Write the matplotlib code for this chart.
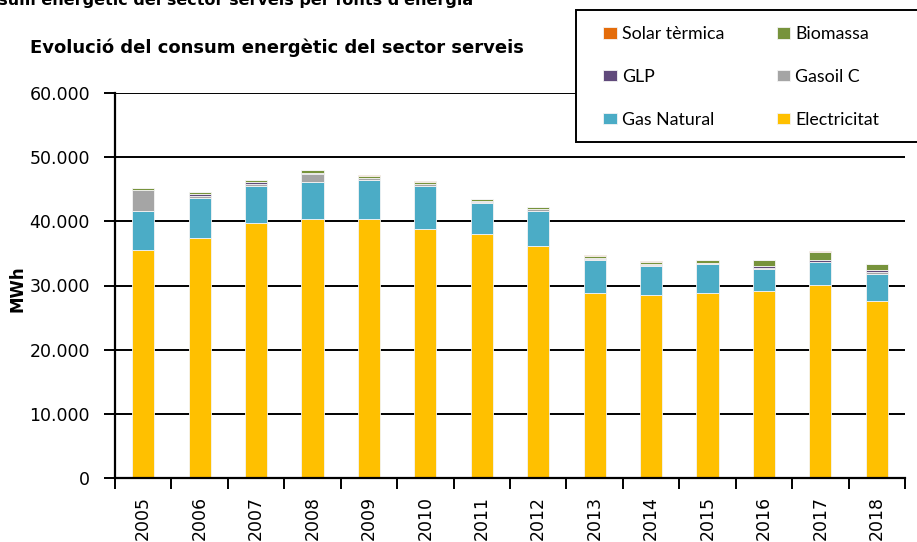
import matplotlib
matplotlib.use("Agg")
import matplotlib.pyplot as plt
from matplotlib.patches import Rectangle
import numpy as np

years = ["2005", "2006", "2007", "2008", "2009", "2010", "2011",
         "2012", "2013", "2014", "2015", "2016", "2017", "2018"]

# MWh per source
electricitat = [35560, 37340, 39720, 40340, 40340, 38830, 37960,
                36180, 28870, 28560, 28870, 29180, 30060, 27620]
gas_natural = [5980, 6320, 5810, 5810, 6080, 6700, 4870,
               5360, 5090, 4510, 4460, 3320, 3580, 4200]
gasoil_c = [3320, 300, 250, 1200, 300, 300, 250,
            350, 150, 100, 100, 250, 100, 300]
glp = [50, 300, 300, 250, 50, 50, 50,
       50, 250, 250, 100, 300, 300, 300]
biomassa = [300, 350, 300, 350, 350, 300, 350,
            300, 300, 300, 400, 930, 1250, 930]
solar_termica = [20, 30, 30, 40, 40, 40, 40,
                 40, 50, 50, 50, 60, 60, 60]

colors = {
    "Electricitat": "#FFC000",
    "Gas Natural": "#4BACC6",
    "Gasoil C": "#A5A5A5",
    "GLP": "#604A7B",
    "Biomassa": "#77933C",
    "Solar tèrmica": "#E46C0A",
}

series = [
    ("Electricitat", electricitat),
    ("Gas Natural", gas_natural),
    ("Gasoil C", gasoil_c),
    ("GLP", glp),
    ("Biomassa", biomassa),
    ("Solar tèrmica", solar_termica),
]

W, H = 917, 542
fig = plt.figure(figsize=(W / 100, H / 100), dpi=100)
ax = fig.add_axes([115 / W, 1 - 478 / H, 790 / W, 385 / H])

x = np.arange(len(years))
bottom = np.zeros(len(years))
handles = {}
for name, vals in series:
    vals = np.array(vals, dtype=float)
    bars = ax.bar(x, vals, width=0.39, bottom=bottom, color=colors[name],
                  edgecolor="#f4f4f4", linewidth=0.6, zorder=3, label=name)
    handles[name] = bars
    bottom += vals

ax.set_xlim(-0.5, len(years) - 0.5)
ax.set_ylim(0, 60000)
ax.set_yticks(np.arange(0, 60001, 10000))
ax.set_yticklabels([f"{v:,}".replace(",", ".") for v in range(0, 60001, 10000)],
                   fontsize=12.5, family="DejaVu Sans")
ax.yaxis.grid(True, color="black", linewidth=1.4, zorder=1)

# ticks between categories, labels centred on bars
ax.set_xticks(np.arange(-0.5, len(years), 1.0))
ax.set_xticklabels([])
ax.set_xticks(x, minor=True)
ax.set_xticklabels(years, minor=True, rotation=90, fontsize=12.5,
                   family="DejaVu Sans")
ax.tick_params(axis="x", which="minor", length=0, pad=13)
ax.tick_params(axis="x", which="major", length=8, width=1.4, direction="out")
ax.tick_params(axis="y", length=8, width=1.4, direction="out", pad=10)

for s in ["top", "right"]:
    ax.spines[s].set_visible(False)
for s in ["left", "bottom"]:
    ax.spines[s].set_linewidth(1.6)
    ax.spines[s].set_zorder(4)

fig.text(17 / W, 1 - 289 / H, "MWh", rotation=90, fontsize=12,
         fontweight="bold", ha="center", va="center", family="DejaVu Sans")

fig.text(30 / W, 1 - 48 / H, "Evolució del consum energètic del sector serveis",
         fontsize=13, fontweight="bold", ha="left", va="center",
         family="DejaVu Sans")

fig.text(473 / W, 1 - 5 / H,
         "Consum energètic del sector serveis per fonts d'energia",
         fontsize=11.5, fontweight="bold", ha="right", va="baseline",
         family="DejaVu Sans")

# legend frame runs past the right edge of the image
frame = Rectangle((576 / W, 1 - 142 / H), 360 / W, 132 / H,
                  transform=fig.transFigure, facecolor="white",
                  edgecolor="black", linewidth=1.4, zorder=9)
fig.patches.append(frame)

order = ["Solar tèrmica", "GLP", "Gas Natural", "Biomassa", "Gasoil C", "Electricitat"]
leg = fig.legend([handles[n] for n in order], order, ncol=2,
                 loc="upper left", bbox_to_anchor=(598 / W, 1 - 21 / H),
                 frameon=False,
                 prop={"family": "Lato", "size": 12.8},
                 handlelength=0.75, handleheight=0.6, handletextpad=0.3,
                 columnspacing=2.95, labelspacing=1.5,
                 borderpad=0.3, borderaxespad=0)
leg.set_zorder(10)

fig.savefig("out.png", dpi=100)
